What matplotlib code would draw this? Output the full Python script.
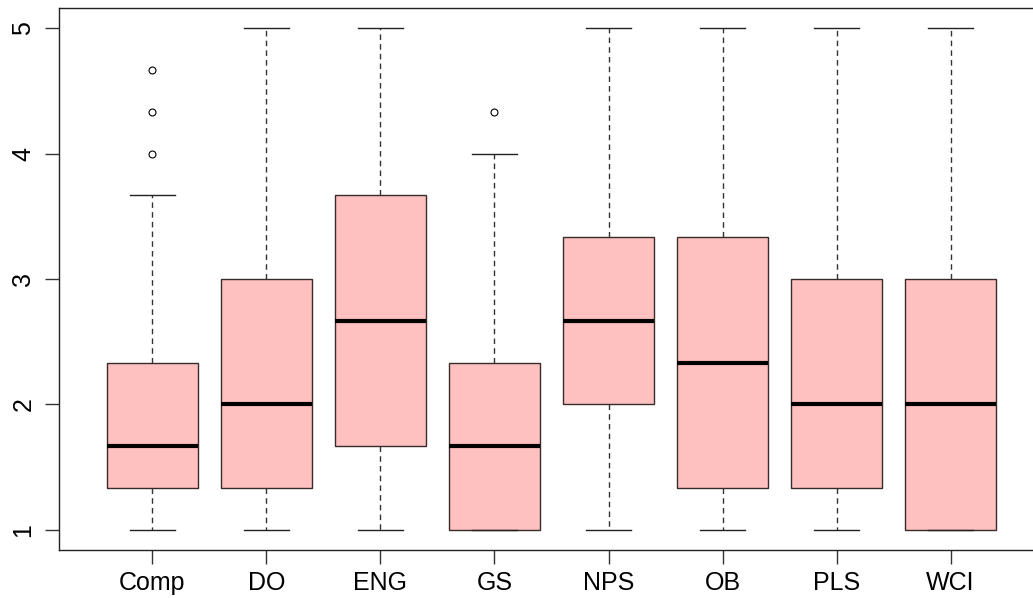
import matplotlib
matplotlib.use("Agg")
import matplotlib.pyplot as plt

plt.rcParams['font.family'] = ['Liberation Sans', 'DejaVu Sans']

groups = ['Comp', 'DO', 'ENG', 'GS', 'NPS', 'OB', 'PLS', 'WCI']
q1 = [1.333, 1.333, 1.667, 1.0, 2.0, 1.333, 1.333, 1.0]
med = [1.667, 2.0, 2.667, 1.667, 2.667, 2.333, 2.0, 2.0]
q3 = [2.333, 3.0, 3.667, 2.333, 3.333, 3.333, 3.0, 3.0]
wlo = [1.0, 1.0, 1.0, 1.0, 1.0, 1.0, 1.0, 1.0]
whi = [3.667, 5.0, 5.0, 4.0, 5.0, 5.0, 5.0, 5.0]
outliers = [[4.0, 4.333, 4.667], [], [], [4.333], [], [], [], []]

stats = []
for i in range(len(groups)):
    stats.append(dict(label=groups[i], q1=q1[i], med=med[i], q3=q3[i],
                      whislo=wlo[i], whishi=whi[i], fliers=outliers[i]))

fig = plt.figure(figsize=(10.33, 5.98), dpi=100)
# right edge of the frame is cut off in the original
ax = fig.add_axes([59/1033, 48/598, 985/1033, 542/598])

ax.bxp(stats, positions=range(1, 9), widths=0.8, patch_artist=True,
       boxprops=dict(facecolor='#ffc0c0', edgecolor='#3a2a2a', linewidth=1),
       medianprops=dict(color='black', linewidth=3, solid_capstyle='butt'),
       whiskerprops=dict(color='#333333', linestyle=(0, (4, 3)), linewidth=1),
       capprops=dict(color='#222222', linewidth=1),
       capwidths=0.4,
       flierprops=dict(marker='o', markersize=5, markerfacecolor='white',
                       markeredgecolor='black', markeredgewidth=0.8))

ax.set_xlim(0.18, 8.82)
ax.set_ylim(0.84, 5.16)
ax.set_yticks([1, 2, 3, 4, 5])
ax.set_yticklabels(['1', '2', '3', '4', '5'], rotation=90, va='center')
ax.tick_params(axis='both', length=10, width=1, color='#333333', labelsize=18)
ax.tick_params(axis='x', pad=5)
ax.tick_params(axis='y', pad=7)
ax.spines['right'].set_visible(False)
for s in ax.spines.values():
    s.set_color('#222222')
    s.set_linewidth(1)

fig.savefig('out.png', dpi=100)
